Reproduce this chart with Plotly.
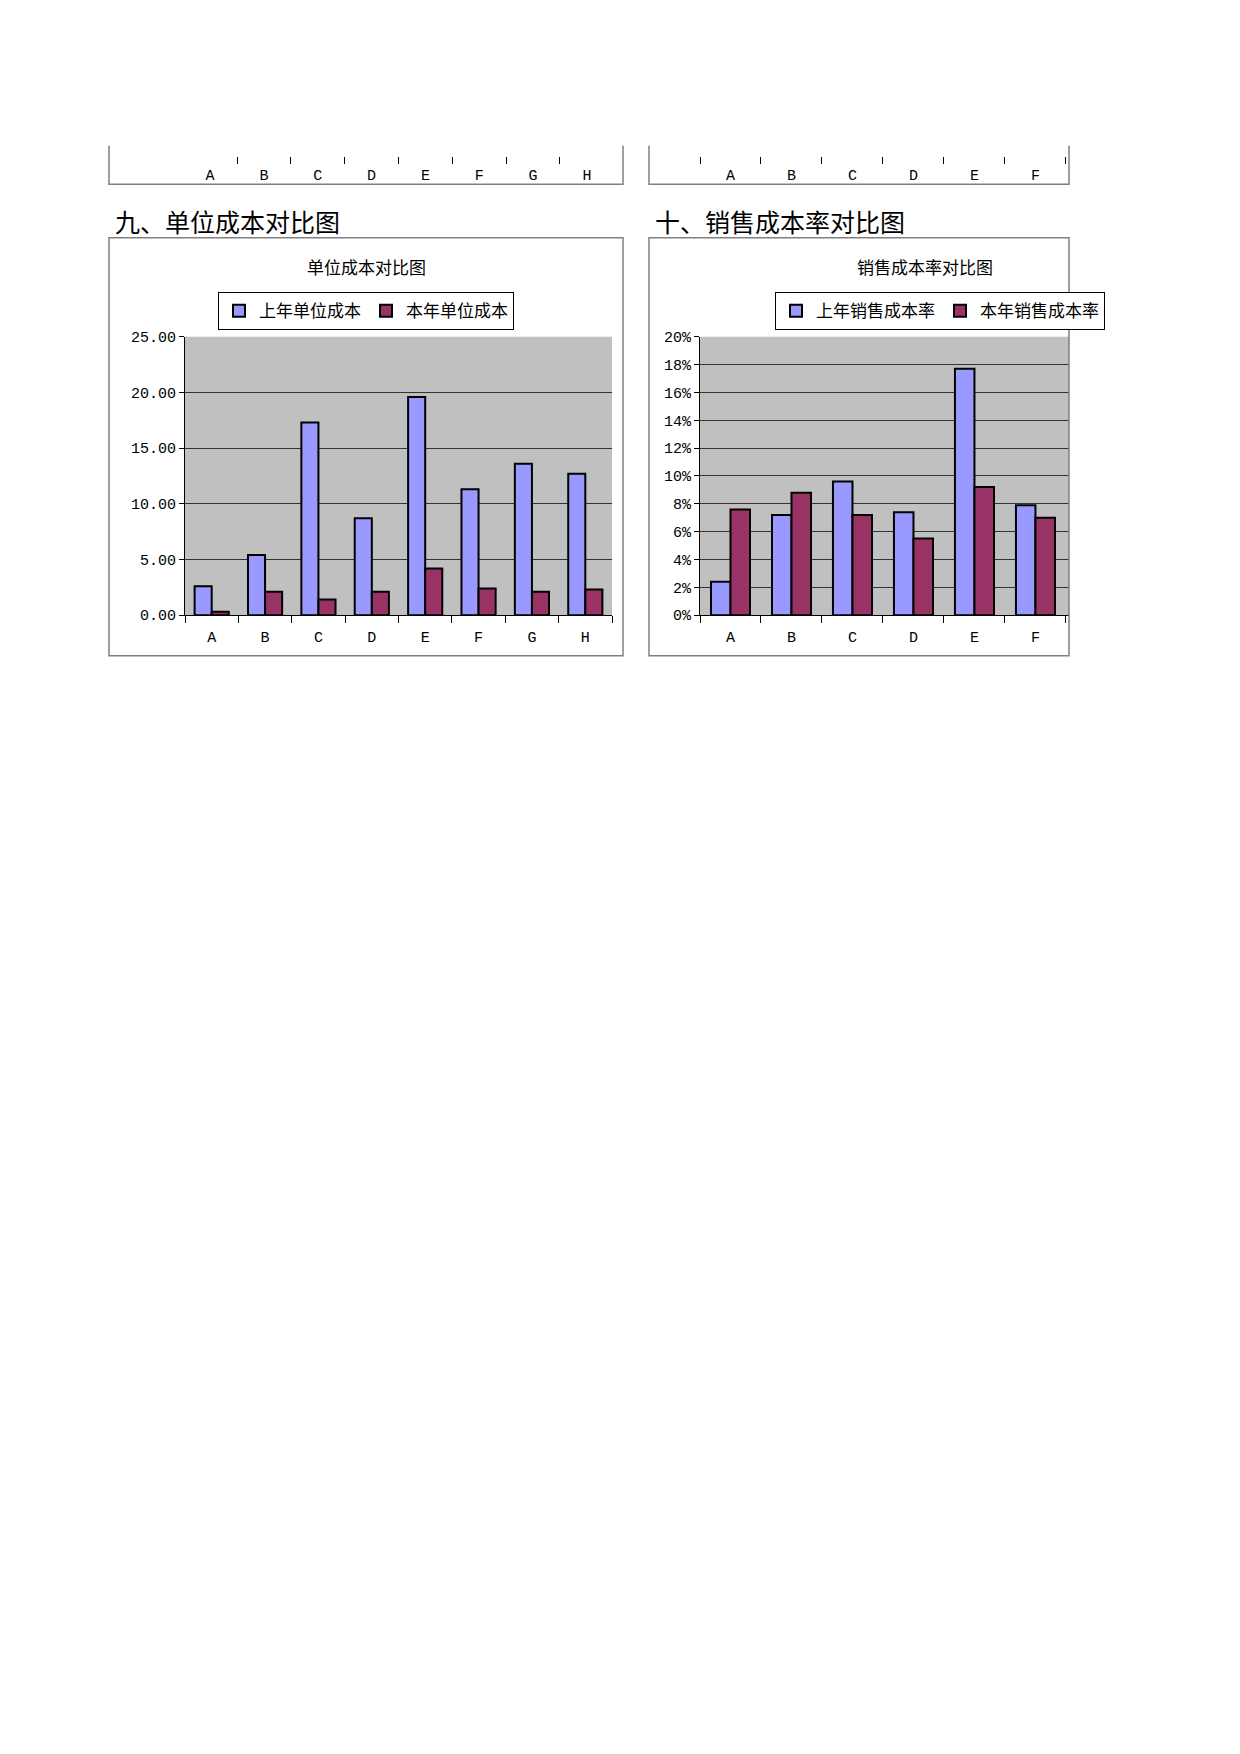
import plotly.graph_objects as go

W, H = 1240, 1754

cats = ['A', 'B', 'C', 'D', 'E', 'F', 'G', 'H']
unit_last = [2.6, 5.4, 17.3, 8.7, 19.6, 11.3, 13.6, 12.7]
unit_this = [0.3, 2.1, 1.4, 2.1, 4.2, 2.4, 2.1, 2.3]

rate_cats = ['A', 'B', 'C', 'D', 'E', 'F']
rate_last = [0.024, 0.072, 0.096, 0.074, 0.177, 0.079]
rate_this = [0.076, 0.088, 0.072, 0.055, 0.092, 0.070]

blue, red = '#9999FF', '#993366'
mono = 'Liberation Mono, DejaVu Sans Mono'
cjk = 'Noto Sans CJK SC'


def px(x):
    return (x - 12) / W


def py(y):
    return 1 - (y - 15) / H


fig = go.Figure()
line = dict(color='black', width=2)
fig.add_bar(x=cats, y=unit_last, name='上年单位成本', marker=dict(color=blue, line=line),
            xaxis='x', yaxis='y', legend='legend')
fig.add_bar(x=cats, y=unit_this, name='本年单位成本', marker=dict(color=red, line=line),
            xaxis='x', yaxis='y', legend='legend')
fig.add_bar(x=rate_cats, y=rate_last, name='上年销售成本率', marker=dict(color=blue, line=line),
            xaxis='x2', yaxis='y2', legend='legend2')
fig.add_bar(x=rate_cats, y=rate_this, name='本年销售成本率', marker=dict(color=red, line=line),
            xaxis='x2', yaxis='y2', legend='legend2')
# remnants of the charts above (only their category axes are visible)
fig.add_scatter(x=cats, y=[None] * 8, xaxis='x3', yaxis='y3', showlegend=False)
fig.add_scatter(x=rate_cats, y=[None] * 6, xaxis='x4', yaxis='y4', showlegend=False)

tickf = dict(family=mono, size=15, color='black')
common_x = dict(showline=True, linecolor='black', ticks='outside', ticklen=7,
                tickcolor='black', tickfont=tickf, showgrid=False, fixedrange=True,
                ticklabelstandoff=8)
common_y = dict(tickfont=tickf, gridcolor='#333333', gridwidth=1, showline=True,
                linecolor='black', ticks='outside', ticklen=5, tickcolor='black',
                zeroline=False)

fig.update_layout(
    width=W, height=H, margin=dict(l=0, r=0, t=0, b=0),
    paper_bgcolor='white', plot_bgcolor='white',
    barmode='group', bargap=0.36, bargroupgap=0,
    xaxis=dict(common_x, domain=[px(189), px(616)], anchor='y', tickson='boundaries'),
    yaxis=dict(common_y, domain=[py(621), py(340)], range=[0, 25], dtick=5,
               tickformat='.2f'),
    xaxis2=dict(common_x, domain=[px(704), px(1073)], anchor='y2', tickson='boundaries',
                range=[-0.5, 5.55]),
    yaxis2=dict(common_y, domain=[py(621), py(340)], range=[0, 0.2], dtick=0.02,
                tickformat='.0%', anchor='x2'),
    xaxis3=dict(common_x, domain=[px(189), px(616)], anchor='y3', tickson='boundaries',
                showline=False),
    yaxis3=dict(domain=[py(157), py(147)], visible=False),
    xaxis4=dict(common_x, domain=[px(704), px(1073)], anchor='y4', tickson='boundaries',
                showline=False, range=[-0.5, 5.55]),
    yaxis4=dict(domain=[py(157), py(147)], visible=False),
    legend=dict(orientation='h', x=px(370), xanchor='center', y=py(295), yanchor='top',
                bordercolor='black', borderwidth=1,
                font=dict(family=cjk, size=17, color='black'), itemwidth=30),
    legend2=dict(orientation='h', x=px(779), xanchor='left', y=py(295), yanchor='top',
                 bordercolor='black', borderwidth=1,
                 font=dict(family=cjk, size=17, color='black'), itemwidth=30),
    showlegend=True,
)

# gray plot backgrounds
for xa in ['x', 'x2']:
    ya = xa.replace('x', 'y')
    fig.add_shape(type='rect', xref=f'{xa} domain', yref=f'{ya} domain', x0=0, x1=1,
                  y0=0, y1=1, fillcolor='#C0C0C0', line=dict(width=0), layer='below')

# chart frames
for x0, x1 in [(113, 627), (653, 1073)]:
    fig.add_shape(type='rect', xref='paper', yref='paper', x0=px(x0), x1=px(x1),
                  y0=py(662), y1=py(240), line=dict(color='#808080', width=1.5))
    fig.add_shape(type='path', xref='paper', yref='paper',
                  path=f'M {px(x0)},{py(147)} L {px(x0)},{py(186)} L {px(x1)},{py(186)} L {px(x1)},{py(147)}',
                  line=dict(color='#808080', width=1.5))
# hide the clipped right edges
fig.add_shape(type='rect', xref='paper', yref='paper', x0=px(1074), x1=1, y0=0, y1=1,
              fillcolor='white', line=dict(width=0), layer='above')

for x, text in [(117, '九、单位成本对比图'), (657, '十、销售成本率对比图')]:
    fig.add_annotation(xref='paper', yref='paper', x=px(x), y=py(223), text=text,
                       showarrow=False, xanchor='left', yanchor='middle',
                       font=dict(family=cjk, size=25, color='black'))
for x, text in [(370, '单位成本对比图'), (929, '销售成本率对比图')]:
    fig.add_annotation(xref='paper', yref='paper', x=px(x), y=py(269), text=text,
                       showarrow=False, xanchor='center', yanchor='middle',
                       font=dict(family=cjk, size=17, color='black'))

fig.write_html('out.html')
